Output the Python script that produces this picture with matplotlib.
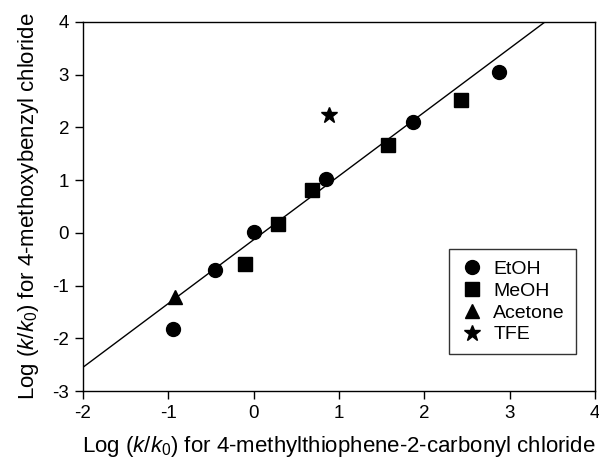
import matplotlib
matplotlib.use("Agg")
import matplotlib.pyplot as plt
import numpy as np

plt.rcParams['font.family'] = 'Liberation Sans'
plt.rcParams['mathtext.fontset'] = 'custom'
plt.rcParams['mathtext.rm'] = 'Liberation Sans'
plt.rcParams['mathtext.it'] = 'Liberation Sans:italic'
plt.rcParams['axes.unicode_minus'] = False

# data
etoh_x = [-0.95, -0.45, 0.0, 0.85, 1.87, 2.88]
etoh_y = [-1.82, -0.70, 0.02, 1.02, 2.10, 3.05]
meoh_x = [-0.10, 0.28, 0.68, 1.57, 2.43]
meoh_y = [-0.60, 0.16, 0.82, 1.67, 2.52]
acetone_x = [-0.92]
acetone_y = [-1.22]
tfe_x = [0.88]
tfe_y = [2.24]

# regression line
slope = 1.21
intercept = -0.13

fig = plt.figure(figsize=(5.99, 4.59), dpi=100)
ax = fig.add_axes([83/599, 1 - 391/459, 512/599, 369/459])

xl = np.array([-2, 4])
ax.plot(xl, slope * xl + intercept, color='black', lw=1)

ax.plot(etoh_x, etoh_y, 'o', color='black', ms=10, label='EtOH', zorder=3)
ax.plot(meoh_x, meoh_y, 's', color='black', ms=9.5, label='MeOH', zorder=3)
ax.plot(acetone_x, acetone_y, '^', color='black', ms=10, label='Acetone', zorder=3)
ax.plot(tfe_x, tfe_y, '*', color='black', ms=12, label='TFE', zorder=3)

ax.set_xlim(-2, 4)
ax.set_ylim(-3, 4)
ax.set_xticks(range(-2, 5))
ax.set_yticks(range(-3, 5))
ax.tick_params(direction='out', length=6, width=1, labelsize=13.5, top=False, right=False, pad=4)
for s in ax.spines.values():
    s.set_linewidth(1)

ax.set_xlabel(r'Log ($\mathit{k/k}_0$) for 4-methylthiophene-2-carbonyl chloride', fontsize=16, labelpad=9)
ax.set_ylabel(r'Log ($\mathit{k/k}_0$) for 4-methoxybenzyl chloride', fontsize=16, labelpad=8)

leg = ax.legend(loc='lower right', bbox_to_anchor=(0.962, 0.1), fontsize=14, frameon=True,
                fancybox=False, edgecolor='black', handletextpad=0.5, labelspacing=0.22,
                borderpad=0.55, handlelength=1.2, borderaxespad=0)
leg.get_frame().set_linewidth(1)

fig.savefig('out.png', dpi=100)
